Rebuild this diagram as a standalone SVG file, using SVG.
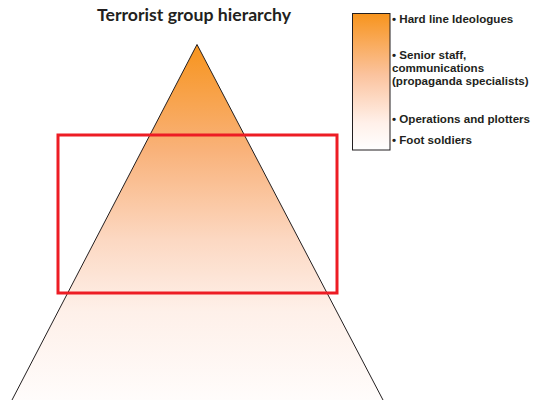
<svg xmlns="http://www.w3.org/2000/svg" width="537" height="400" viewBox="0 0 537 400">
<style>
.lbl{font-family:"Liberation Sans",Arial,sans-serif;font-weight:bold;font-size:11.6px;fill:#231f20}
.title{font-family:Lato,"Open Sans",sans-serif;font-weight:bold;font-size:17px;fill:#231f20}
</style>
<defs>
<linearGradient id="tri" gradientUnits="userSpaceOnUse" x1="0" y1="44" x2="0" y2="400">
<stop offset="0" stop-color="#F7941D"/>
<stop offset="0.3" stop-color="#F9B27A"/>
<stop offset="0.55" stop-color="#FCD8C2"/>
<stop offset="0.75" stop-color="#FEF0E9"/>
<stop offset="1" stop-color="#FFFCFB"/>
</linearGradient>
<linearGradient id="leg" x1="0" y1="0" x2="0" y2="1">
<stop offset="0" stop-color="#F7941D"/>
<stop offset="0.45" stop-color="#FBC39E"/>
<stop offset="0.8" stop-color="#FFF0E9"/>
<stop offset="1" stop-color="#FFFFFF"/>
</linearGradient>
</defs>
<rect width="537" height="400" fill="#ffffff"/>
<text class="title" x="97" y="21" textLength="194" lengthAdjust="spacingAndGlyphs">Terrorist group hierarchy</text>
<g id="pyramid">
<polygon points="197,44.5 12,400 383,400" fill="url(#tri)" stroke="none"/>
<polyline points="12,400 197,44.5 383,400" fill="none" stroke="#231f20" stroke-width="1"/>
</g>
<g id="legend">
<rect x="352.5" y="13.5" width="37.5" height="136.5" fill="url(#leg)" stroke="#231f20" stroke-width="1"/>
<text class="lbl" x="392" y="23">• Hard line Ideologues</text>
<text class="lbl" x="392" y="58.5">• Senior staff,</text>
<text class="lbl" x="392" y="71.5">communications</text>
<text class="lbl" x="392" y="84.5">(propaganda specialists)</text>
<text class="lbl" x="392" y="122.5">• Operations and plotters</text>
<text class="lbl" x="392" y="144">• Foot soldiers</text>
</g>
<g id="highlight">
<rect x="58" y="135" width="279" height="158" fill="none" stroke="#ED1C24" stroke-width="3"/>
</g>
</svg>
